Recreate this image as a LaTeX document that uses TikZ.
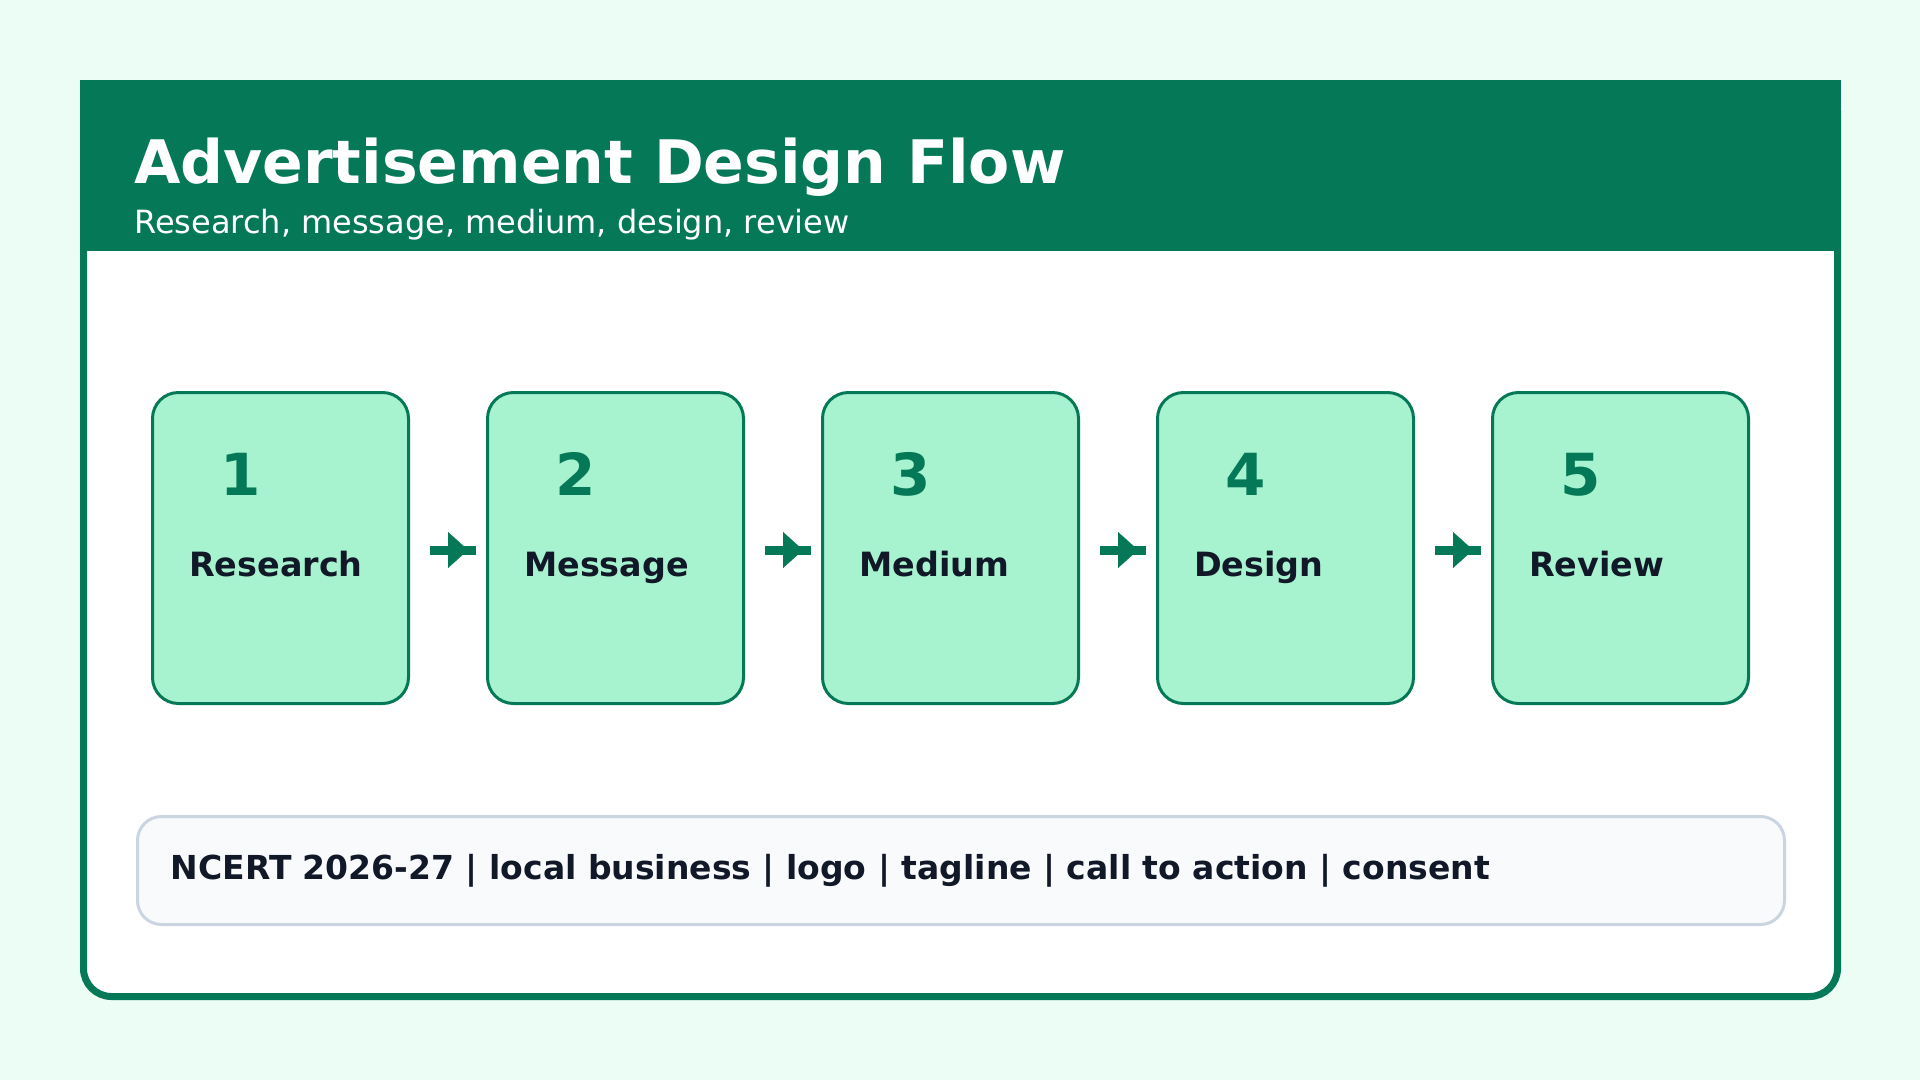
\documentclass[tikz,border=0pt]{standalone}
\usepackage{fontspec}
\setmainfont{DejaVu Sans}
\usetikzlibrary{arrows.meta}
\definecolor{bgmint}{HTML}{ECFDF5}
\definecolor{darkgreen}{HTML}{047857}
\definecolor{cardfill}{HTML}{A7F3D0}
\definecolor{inkdark}{HTML}{111827}
\definecolor{notefill}{HTML}{F8FAFC}
\definecolor{noteline}{HTML}{CBD5E1}
\tikzstyle{card} = [rectangle, rounded corners=26pt, draw=darkgreen, line width=3pt, fill=cardfill, minimum width=256pt, minimum height=311pt, inner sep=0pt]
\tikzstyle{num} = [anchor=base west, inner sep=0pt, text=darkgreen, font=\fontsize{58}{70}\selectfont\bfseries]
\tikzstyle{lbl} = [anchor=base west, inner sep=0pt, text=inkdark, font=\fontsize{33.4}{40}\selectfont\bfseries]
\tikzstyle{shaft} = [draw=darkgreen, line width=9pt, shorten <=20pt, shorten >=10pt]
\tikzstyle{head} = [draw=darkgreen, fill=darkgreen, line width=0.1pt, shorten <=30pt, shorten >=18pt, -{Triangle[length=20pt,width=36pt]}]

\begin{document}
\begin{tikzpicture}[x=1pt, y=-1pt]
    \useasboundingbox (0,0) rectangle (1920,1080);
    \fill[bgmint] (0,0) rectangle (1920,1080);
    \draw[darkgreen, line width=7pt, fill=white, rounded corners=28pt] (83.5,83.5) rectangle (1837.5,996.5);
    \fill[darkgreen] (80,80) rectangle (1841,251);
    \node (title) [anchor=base west, inner sep=0pt, text=white, font=\fontsize{60}{72}\selectfont\bfseries] at (134,183) {Advertisement Design Flow};
    \node (subtitle) [anchor=base west, inner sep=0pt, text=white, font=\fontsize{32}{38}\selectfont] at (134,233) {Research, message, medium, design, review};
    \node (c1) [card] at (280.5,548) {};
    \node (c2) [card] at (615.5,548) {};
    \node (c3) [card] at (950.5,548) {};
    \node (c4) [card] at (1285.5,548) {};
    \node (c5) [card] at (1620.5,548) {};
    \node (n1) [num] at ([xshift=69pt,yshift=-104pt]c1.north west) {1};
    \node (n2) [num] at ([xshift=69pt,yshift=-104pt]c2.north west) {2};
    \node (n3) [num] at ([xshift=69pt,yshift=-104pt]c3.north west) {3};
    \node (n4) [num] at ([xshift=69pt,yshift=-104pt]c4.north west) {4};
    \node (n5) [num] at ([xshift=69pt,yshift=-104pt]c5.north west) {5};
    \node (l1) [lbl] at ([xshift=38pt,yshift=-185pt]c1.north west) {Research};
    \node (l2) [lbl] at ([xshift=38pt,yshift=-185pt]c2.north west) {Message};
    \node (l3) [lbl] at ([xshift=38pt,yshift=-185pt]c3.north west) {Medium};
    \node (l4) [lbl] at ([xshift=38pt,yshift=-185pt]c4.north west) {Design};
    \node (l5) [lbl] at ([xshift=38pt,yshift=-185pt]c5.north west) {Review};
    \draw[shaft] ([yshift=-2pt]c1.east) -- ([yshift=-2pt]c2.west);
    \draw[head] ([yshift=-2pt]c1.east) -- ([yshift=-2pt]c2.west);
    \draw[shaft] ([yshift=-2pt]c2.east) -- ([yshift=-2pt]c3.west);
    \draw[head] ([yshift=-2pt]c2.east) -- ([yshift=-2pt]c3.west);
    \draw[shaft] ([yshift=-2pt]c3.east) -- ([yshift=-2pt]c4.west);
    \draw[head] ([yshift=-2pt]c3.east) -- ([yshift=-2pt]c4.west);
    \draw[shaft] ([yshift=-2pt]c4.east) -- ([yshift=-2pt]c5.west);
    \draw[head] ([yshift=-2pt]c4.east) -- ([yshift=-2pt]c5.west);
    \node (note) [rectangle, rounded corners=24pt, draw=noteline, line width=3pt, fill=notefill, minimum width=1647pt, minimum height=108pt] at (961,870.5) {};
    \node (notetext) [lbl, font=\fontsize{33}{40}\selectfont\bfseries] at ([xshift=34.5pt,yshift=-64pt]note.north west) {NCERT 2026-27 | local business | logo | tagline | call to action | consent};
\end{tikzpicture}
\end{document}
